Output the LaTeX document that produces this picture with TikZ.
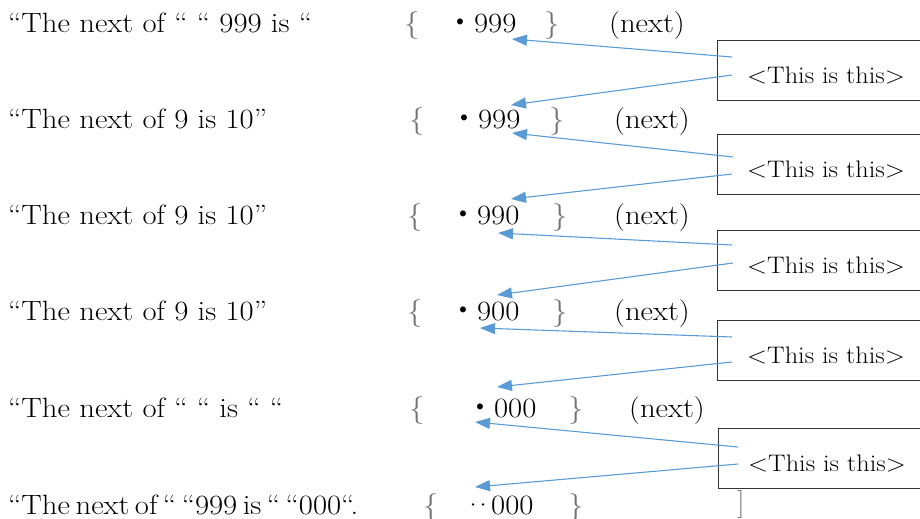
\documentclass[tikz,border=0pt]{standalone}
\usepackage{fontspec}
\setmainfont{Latin Modern Roman}[FakeStretch=1.1]
\newfontfamily\cjk{Noto Sans CJK JP}
\usepackage{xcolor}
\usetikzlibrary{arrows.meta,positioning}

\definecolor{arrowblue}{HTML}{5B9BD5}

\tikzset{
    line/.style={anchor=base west, inner sep=0pt, font=\fontsize{28}{32}\selectfont},
    brace/.style={line, text=black!55},
    thisbox/.style={draw=black!80, line width=1.1pt, anchor=north west, inner sep=0pt,
        minimum width=217bp, minimum height=60bp, text height=28bp, text depth=2bp,
        font=\fontsize{24}{28}\selectfont},
    pointer/.style={arrowblue, line width=1.1pt, -{Triangle[length=15bp,width=11bp]}}
}

\begin{document}
\begin{tikzpicture}[x=1bp,y=-1bp]
    \useasboundingbox (0,0) rectangle (920,519);

    % Row 1
    \node[line] (s1) at (8,33) {“The next of “ “ 999 is “};
    \node[brace] (l1) at (404,33) {\{};
    \node[line] (n1) at (446,33) {{\cjk ・}999};
    \node[brace] (r1) at (544,33) {\}};
    \node[line] (x1) at (609,33) {(next)};

    % Row 2
    \node[line] (s2) at (8,129) {“The next of 9 is 10”};
    \node[brace] (l2) at (409,129) {\{};
    \node[line] (n2) at (450,129) {{\cjk ・}999};
    \node[brace] (r2) at (549,129) {\}};
    \node[line] (x2) at (614,129) {(next)};

    % Row 3
    \node[line] (s3) at (8,225) {“The next of 9 is 10”};
    \node[brace] (l3) at (407,225) {\{};
    \node[line] (n3) at (449,225) {{\cjk ・}990};
    \node[brace] (r3) at (552,225) {\}};
    \node[line] (x3) at (614,225) {(next)};

    % Row 4
    \node[line] (s4) at (8,321) {“The next of 9 is 10”};
    \node[brace] (l4) at (407,321) {\{};
    \node[line] (n4) at (449,321) {{\cjk ・}900};
    \node[brace] (r4) at (552,321) {\}};
    \node[line] (x4) at (614,321) {(next)};

    % Row 5
    \node[line] (s5) at (8,417) {“The next of “ “ is “ “};
    \node[brace] (l5) at (409,417) {\{};
    \node[line] (n5) at (466,417) {{\cjk ・}000};
    \node[brace] (r5) at (568,417) {\}};
    \node[line] (x5) at (629,417) {(next)};

    % Row 6
    \node[line] (s6) at (8,514) {\spaceskip=5.5pt “The next of “ “999 is “ “000“.};
    \node[brace] (l6) at (423,514) {\{};
    \node[line] (n6) at (468,514) {\makebox[10bp]{·}\makebox[10bp]{·}\kern3bp 000};
    \node[brace] (r6) at (568,514) {\}};
    \node[brace] (e6) at (737,511) {]};

    % Boxes
    \node[thisbox] (b1) at (717,40) {<This is this>};
    \node[thisbox] (b2) at (717,134) {<This is this>};
    \node[thisbox] (b3) at (717,230) {<This is this>};
    \node[thisbox] (b4) at (717,320) {<This is this>};
    \node[thisbox] (b5) at (718,428) {<This is this>};

    % Arrow tips
    \coordinate (t1a) at (512,39);
    \coordinate (t1b) at (511,105);
    \coordinate (t2a) at (512,133);
    \coordinate (t2b) at (511,199);
    \coordinate (t3a) at (498,233);
    \coordinate (t3b) at (497,295);
    \coordinate (t4a) at (480,328);
    \coordinate (t4b) at (497,387);
    \coordinate (t5a) at (475,422);
    \coordinate (t5b) at (475,487);

    % Pointers
    \draw[pointer] ([shift={(15,17)}]b1.north west) -- (t1a);
    \draw[pointer] ([shift={(15,35)}]b1.north west) -- (t1b);
    \draw[pointer] ([shift={(16,23)}]b2.north west) -- (t2a);
    \draw[pointer] ([shift={(15,40)}]b2.north west) -- (t2b);
    \draw[pointer] ([shift={(15,15)}]b3.north west) -- (t3a);
    \draw[pointer] ([shift={(16,33)}]b3.north west) -- (t3b);
    \draw[pointer] ([shift={(15,17)}]b4.north west) -- (t4a);
    \draw[pointer] ([shift={(15,42)}]b4.north west) -- (t4b);
    \draw[pointer] ([shift={(20,19)}]b5.north west) -- (t5a);
    \draw[pointer] ([shift={(20,36)}]b5.north west) -- (t5b);
\end{tikzpicture}
\end{document}
